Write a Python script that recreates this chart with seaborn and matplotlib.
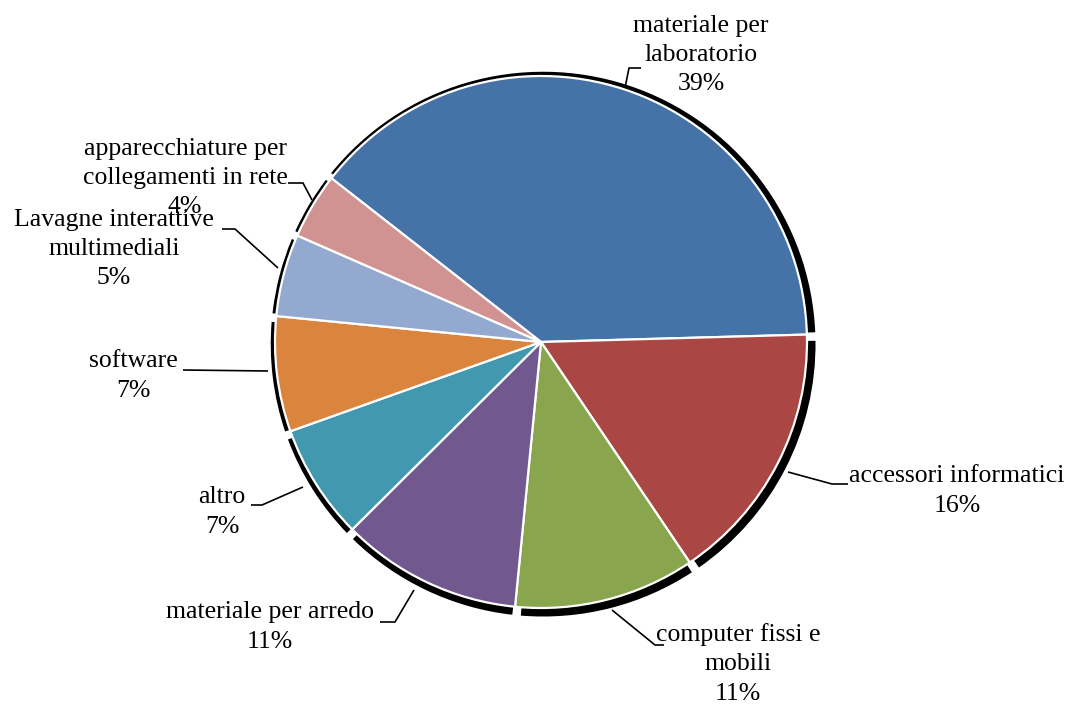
import numpy as np
import matplotlib
matplotlib.use("Agg")
import matplotlib.pyplot as plt
from matplotlib.patches import Wedge
import seaborn as sns

# Spending categories and their shares (%)
categories = [
    "materiale per\nlaboratorio",
    "accessori informatici",
    "computer fissi e\nmobili",
    "materiale per arredo",
    "altro",
    "software",
    "Lavagne interattive\nmultimediali",
    "apparecchiature per\ncollegamenti in rete",
]
shares = [39, 16, 11, 11, 7, 7, 5, 4]
colors = ["#4572A7", "#AA4643", "#89A54E", "#71588F",
          "#4198AF", "#DB843D", "#93A9CF", "#D19392"]

sns.set_theme(style="white")
plt.rcParams["font.family"] = ["Liberation Serif", "DejaVu Serif"]

W, H = 1073, 704
fig = plt.figure(figsize=(W / 100, H / 100), dpi=100)
ax = fig.add_axes([0, 0, 1, 1])

CX, CY, R = 541, 342, 266  # pie centre and radius in pixels


def px(x, y):
    """Pixel position (origin top-left) to data units of the pie axes."""
    return (x - CX) / R, (CY - y) / R


start = 142.0
wedges, _ = ax.pie(
    shares, colors=colors, startangle=start, counterclock=False,
    radius=1.0, wedgeprops=dict(edgecolor="white", linewidth=1.6),
)
for w in wedges:
    w.set_zorder(3)

ax.set_xlim(px(0, 0)[0], px(W, 0)[0])
ax.set_ylim(px(0, H)[1], px(0, 0)[1])
ax.set_aspect("equal")
ax.axis("off")

# Dark rim behind every slice
for w in wedges:
    t1, t2 = w.theta1, w.theta2
    sh = Wedge((0.008, -0.008), 1.024, t1 + 0.9, t2 - 0.9,
               facecolor="black", edgecolor="none", zorder=2)
    ax.add_patch(sh)

# Labels with leader lines: (text centre, polyline of leader in pixels)
labels = [
    ((701, 55), [(641, 68), (629, 68), (625, 88)]),
    ((957, 491), [(848, 484), (832, 484), (788, 472)]),
    ((738, 664), [(664, 645), (655, 645), (612, 610)]),
    ((270, 627), [(380, 622), (395, 622), (414, 590)]),
    ((222, 512), [(251, 505), (262, 505), (303, 487)]),
    ((133, 376), [(183, 370), (268, 371)]),
    ((114, 249), [(222, 229), (235, 229), (278, 268)]),
    ((185, 178), [(288, 183), (303, 183), (312, 200)]),
]

for cat, val, (tpos, line) in zip(categories, shares, labels):
    xs, ys = zip(*[px(*p) for p in line])
    ax.plot(xs, ys, color="black", lw=1.2, zorder=4,
            solid_capstyle="butt")
    ax.text(*px(*tpos), f"{cat}\n{val}%", ha="center", va="center",
            fontsize=18.5, color="black", linespacing=1.42, zorder=5)

fig.savefig("out.png", dpi=100, facecolor="white")
